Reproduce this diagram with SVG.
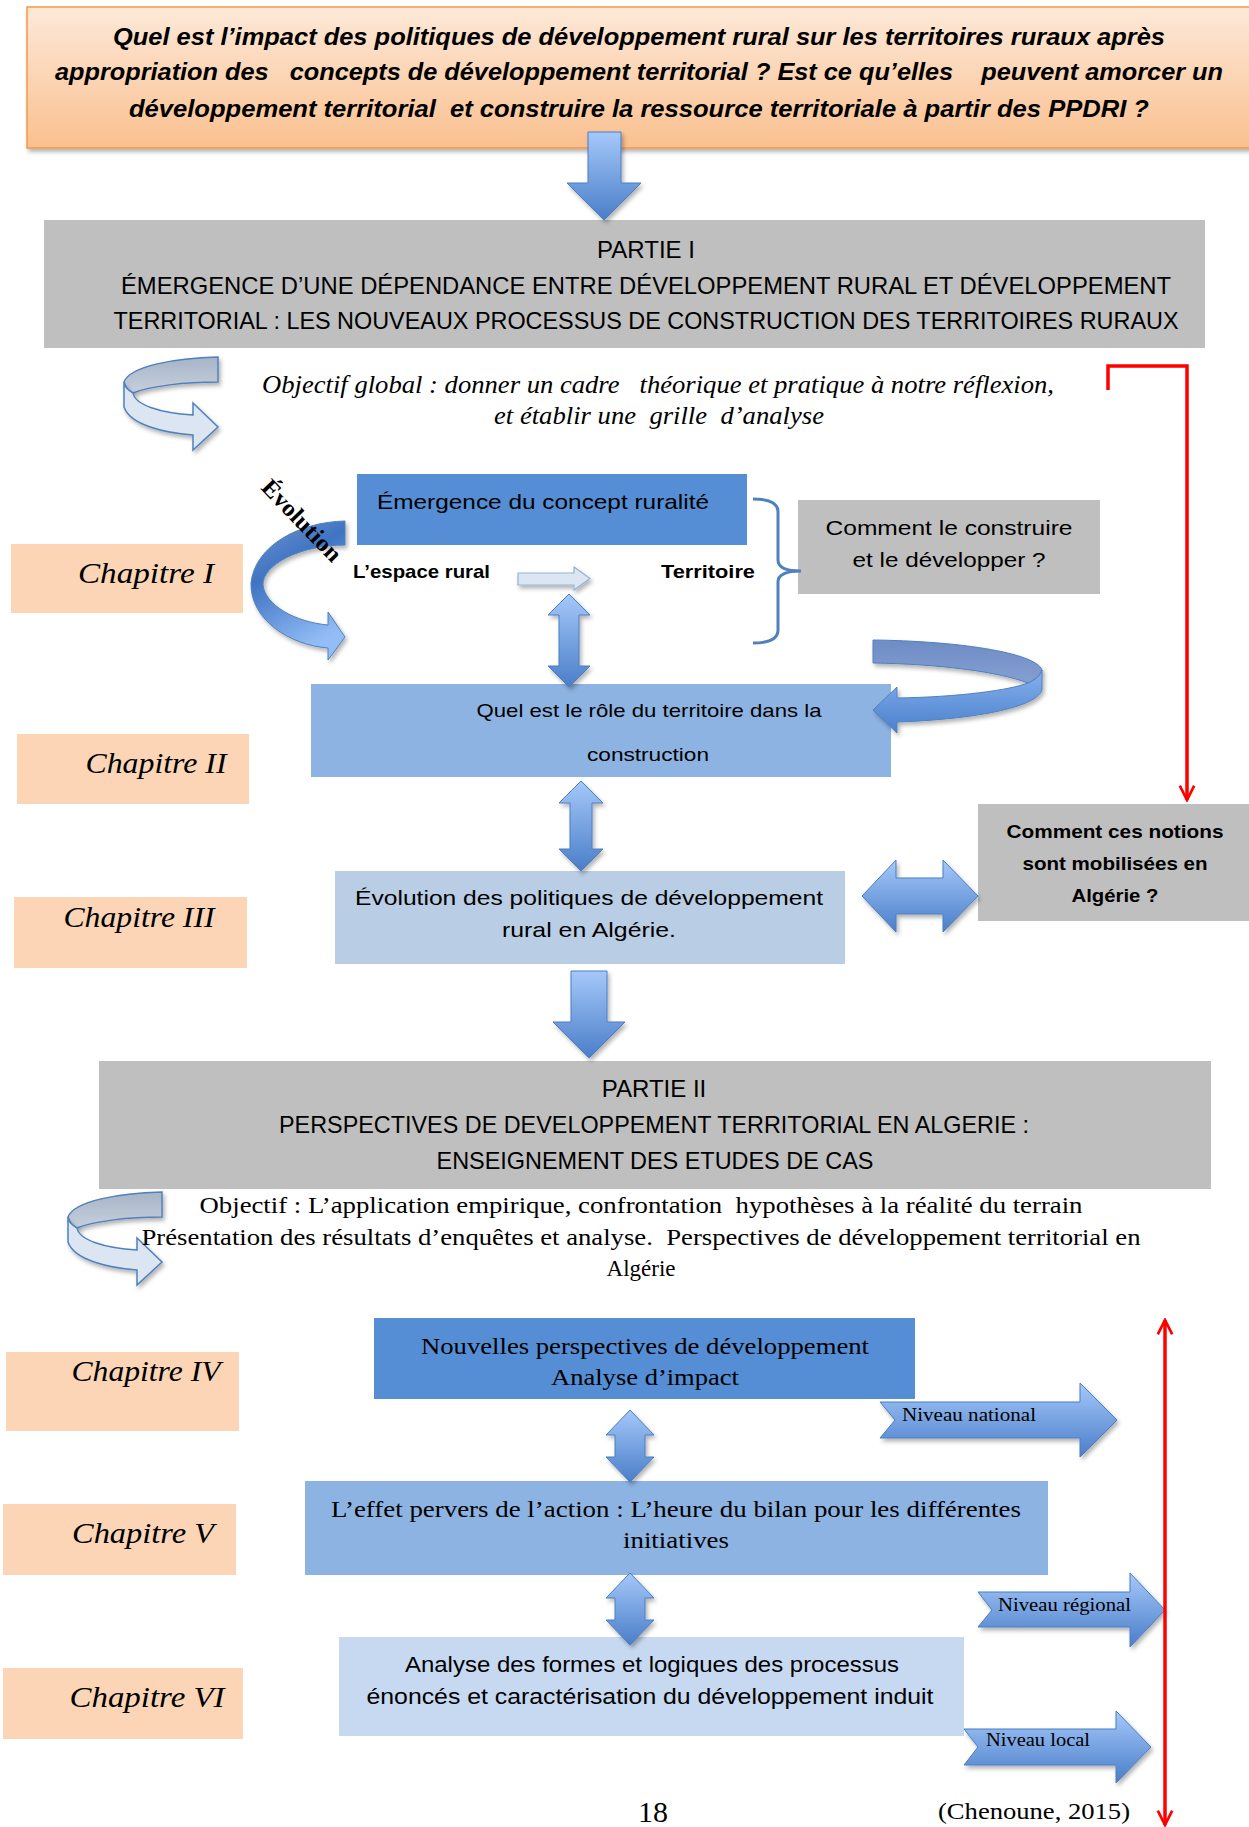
<svg xmlns="http://www.w3.org/2000/svg" width="1249" height="1827" viewBox="0 0 1249 1827">
<style>
.q{font-family:"Liberation Sans",Arial,sans-serif;font-weight:bold;font-style:italic;font-size:24px;fill:#000}
.h{font-family:"Liberation Sans",Arial,sans-serif;font-size:24px;fill:#000}
.s{font-family:"Liberation Sans",Arial,sans-serif;font-size:21px;fill:#000}
.b{font-family:"Liberation Sans",Arial,sans-serif;font-weight:bold;font-size:19px;fill:#000}
.t{font-family:"Liberation Serif","Times New Roman",serif;font-size:23px;fill:#000}
.ti{font-family:"Liberation Serif","Times New Roman",serif;font-style:italic;font-size:25px;fill:#000}
.ch{font-family:"Liberation Serif","Times New Roman",serif;font-style:italic;font-size:30px;fill:#000}
.chb{fill:#FBD5B5}
.grey{fill:#BFBFBF}
.barrow{fill:url(#gBlue);stroke:#4A7EC2;stroke-width:1;filter:url(#sh)}
.red{fill:none;stroke:#FF0000;stroke-width:3.5}
.curlBack{fill:url(#gGrey);stroke:#4F81BD;stroke-width:1.5}
.curlFront{fill:#DCE6F2;stroke:#4F81BD;stroke-width:1.5}
</style>
<defs>
<linearGradient id="gTop" x1="0" y1="0" x2="0" y2="1"><stop offset="0" stop-color="#FDE9D9"/><stop offset="1" stop-color="#FAC08F"/></linearGradient>
<linearGradient id="gBlue" x1="0" y1="0" x2="0" y2="1"><stop offset="0" stop-color="#A5C8FA"/><stop offset="1" stop-color="#4A7EC8"/></linearGradient>
<linearGradient id="gGrey" x1="0" y1="0" x2="0" y2="1"><stop offset="0" stop-color="#A7B4C7"/><stop offset="1" stop-color="#C6CFDC"/></linearGradient>
<linearGradient id="gEvo" x1="0" y1="0" x2="0.4" y2="1"><stop offset="0" stop-color="#7394D0"/><stop offset="0.4" stop-color="#3F74C2"/><stop offset="1" stop-color="#93BDF6"/></linearGradient>
<linearGradient id="gBack" x1="0" y1="0" x2="0" y2="1"><stop offset="0" stop-color="#6E8CC5"/><stop offset="1" stop-color="#859FD2"/></linearGradient>
<linearGradient id="gFront" x1="0" y1="0" x2="0" y2="1"><stop offset="0" stop-color="#86B0EE"/><stop offset="1" stop-color="#4A80CC"/></linearGradient>
<filter id="sh" x="-20%" y="-20%" width="150%" height="150%"><feDropShadow dx="2" dy="3" stdDeviation="2" flood-color="#000" flood-opacity="0.3"/></filter>
<marker id="redArrow" viewBox="0 0 20 20" refX="18" refY="10" markerWidth="18" markerHeight="18" markerUnits="userSpaceOnUse" orient="auto-start-reverse"><path d="M2,2 L18,10 L2,18" fill="none" stroke="#FF0000" stroke-width="3"/></marker>
</defs>
<rect width="1249" height="1827" fill="#FFFFFF"/>

<g id="question">
<rect x="27" y="7" width="1226" height="141" fill="url(#gTop)" stroke="#F79646" stroke-width="1.5" filter="url(#sh)"/>
<text class="q" x="639" y="45" text-anchor="middle" textLength="1052" lengthAdjust="spacingAndGlyphs">Quel est l’impact des politiques de développement rural sur les territoires ruraux après</text>
<text class="q" x="639" y="80" text-anchor="middle" textLength="1168" lengthAdjust="spacingAndGlyphs" xml:space="preserve">appropriation des   concepts de développement territorial ? Est ce qu’elles    peuvent amorcer un</text>
<text class="q" x="639" y="117" text-anchor="middle" textLength="1020" lengthAdjust="spacingAndGlyphs" xml:space="preserve">développement territorial  et construire la ressource territoriale à partir des PPDRI ?</text>
</g>

<g id="partie1">
<rect class="grey" x="44" y="220" width="1161" height="128"/>
<text class="h" x="646" y="258" text-anchor="middle">PARTIE I</text>
<text class="h" x="646" y="294" text-anchor="middle" textLength="1050" lengthAdjust="spacingAndGlyphs">ÉMERGENCE D’UNE DÉPENDANCE ENTRE DÉVELOPPEMENT RURAL ET DÉVELOPPEMENT</text>
<text class="h" x="646" y="329" text-anchor="middle" textLength="1065" lengthAdjust="spacingAndGlyphs">TERRITORIAL : LES NOUVEAUX PROCESSUS DE CONSTRUCTION DES TERRITOIRES RURAUX</text>
</g>

<g id="objectif1">
<path class="curlBack" d="M218,357 C175,358 130,366 124,382 C126,388 130,392 133,393 C150,386 185,382 218,382 Z" filter="url(#sh)"/>
<path class="curlFront" d="M124,382 L124,407 C130,425 165,433 193,435 L193,450 L218,427 L193,403 L193,415 C160,413 135,405 133,393 C128,390 124,386 124,382 Z" filter="url(#sh)"/>
<text class="ti" x="262" y="393" textLength="792" lengthAdjust="spacingAndGlyphs" xml:space="preserve">Objectif global : donner un cadre   théorique et pratique à notre réflexion,</text>
<text class="ti" x="494" y="424" textLength="330" lengthAdjust="spacingAndGlyphs" xml:space="preserve">et établir une  grille  d’analyse</text>
</g>

<g id="chap1">
<rect class="chb" x="11" y="544" width="232" height="69"/>
<text class="ch" x="146" y="583" text-anchor="middle" textLength="136" lengthAdjust="spacingAndGlyphs">Chapitre I</text>
</g>
<g id="chap2">
<rect class="chb" x="17" y="734" width="232" height="70"/>
<text class="ch" x="156" y="773" text-anchor="middle" textLength="141" lengthAdjust="spacingAndGlyphs">Chapitre II</text>
</g>
<g id="chap3">
<rect class="chb" x="14" y="897" width="233" height="71"/>
<text class="ch" x="139" y="927" text-anchor="middle" textLength="151" lengthAdjust="spacingAndGlyphs">Chapitre III</text>
</g>
<g id="chap4">
<rect class="chb" x="6" y="1352" width="233" height="79"/>
<text class="ch" x="146" y="1381" text-anchor="middle" textLength="149" lengthAdjust="spacingAndGlyphs">Chapitre IV</text>
</g>
<g id="chap5">
<rect class="chb" x="3" y="1504" width="233" height="71"/>
<text class="ch" x="143" y="1543" text-anchor="middle" textLength="142" lengthAdjust="spacingAndGlyphs">Chapitre V</text>
</g>
<g id="chap6">
<rect class="chb" x="3" y="1668" width="240" height="71"/>
<text class="ch" x="147" y="1707" text-anchor="middle" textLength="155" lengthAdjust="spacingAndGlyphs">Chapitre VI</text>
</g>

<g id="emergence">
<rect x="357" y="474" width="390" height="71" fill="#558ED5"/>
<text class="s" x="377" y="509" textLength="332" lengthAdjust="spacingAndGlyphs">Émergence du concept ruralité</text>
</g>

<g id="evolutionLabel">
<path d="M345,521 C300,522 255,545 251,583 C250,620 290,645 328,648 L328,660 L345,637 L328,612 L328,625 C295,622 265,605 263,585 C262,565 300,545 345,545 Z" fill="url(#gEvo)" stroke="#4F81BD" stroke-width="1" filter="url(#sh)"/>
<text transform="translate(296,526) rotate(46)" text-anchor="middle" font-family="Liberation Serif, Times New Roman, serif" font-weight="bold" font-size="24" textLength="104" lengthAdjust="spacingAndGlyphs">Évolution</text>
</g>

<g id="espace">
<text class="b" x="353" y="578" textLength="137" lengthAdjust="spacingAndGlyphs">L’espace rural</text>
</g>
<g id="territoire">
<text class="b" x="661" y="578" textLength="94" lengthAdjust="spacingAndGlyphs">Territoire</text>
</g>

<g id="comment1">
<rect class="grey" x="798" y="500" width="302" height="94"/>
<text class="s" x="949" y="535" text-anchor="middle" textLength="247" lengthAdjust="spacingAndGlyphs">Comment le construire</text>
<text class="s" x="949" y="567" text-anchor="middle" textLength="193" lengthAdjust="spacingAndGlyphs">et le développer ?</text>
</g>

<g id="role">
<rect x="311" y="684" width="580" height="93" fill="#8DB3E2"/>
<text class="s" x="649" y="717" text-anchor="middle" style="font-size:19px" textLength="345" lengthAdjust="spacingAndGlyphs">Quel est le rôle du territoire dans la</text>
<text class="s" x="648" y="761" text-anchor="middle" style="font-size:19px" textLength="122" lengthAdjust="spacingAndGlyphs">construction</text>
</g>

<g id="politiques">
<rect x="335" y="871" width="510" height="93" fill="#B9CDE5"/>
<text class="s" x="589" y="905" text-anchor="middle" textLength="468" lengthAdjust="spacingAndGlyphs">Évolution des politiques de développement</text>
<text class="s" x="589" y="937" text-anchor="middle" textLength="174" lengthAdjust="spacingAndGlyphs">rural en Algérie.</text>
</g>

<g id="notions">
<rect class="grey" x="978" y="804" width="275" height="117"/>
<text class="b" x="1115" y="838" text-anchor="middle" textLength="217" lengthAdjust="spacingAndGlyphs">Comment ces notions</text>
<text class="b" x="1115" y="870" text-anchor="middle" textLength="185" lengthAdjust="spacingAndGlyphs">sont mobilisées en</text>
<text class="b" x="1115" y="902" text-anchor="middle" textLength="87" lengthAdjust="spacingAndGlyphs">Algérie ?</text>
</g>

<g id="partie2">
<rect class="grey" x="99" y="1061" width="1112" height="128"/>
<text class="h" x="654" y="1097" text-anchor="middle">PARTIE II</text>
<text class="h" x="654" y="1133" text-anchor="middle" textLength="750" lengthAdjust="spacingAndGlyphs">PERSPECTIVES DE DEVELOPPEMENT TERRITORIAL EN ALGERIE :</text>
<text class="h" x="655" y="1169" text-anchor="middle" textLength="437" lengthAdjust="spacingAndGlyphs">ENSEIGNEMENT DES ETUDES DE CAS</text>
</g>

<g id="objectif2">
<path class="curlBack" transform="translate(-56,835)" d="M218,357 C175,358 130,366 124,382 C126,388 130,392 133,393 C150,386 185,382 218,382 Z" filter="url(#sh)"/>
<path class="curlFront" transform="translate(-56,835)" d="M124,382 L124,407 C130,425 165,433 193,435 L193,450 L218,427 L193,403 L193,415 C160,413 135,405 133,393 C128,390 124,386 124,382 Z" filter="url(#sh)"/>
<text class="t" x="641" y="1213" text-anchor="middle" textLength="883" lengthAdjust="spacingAndGlyphs" xml:space="preserve">Objectif : L’application empirique, confrontation  hypothèses à la réalité du terrain</text>
<text class="t" x="641" y="1245" text-anchor="middle" textLength="999" lengthAdjust="spacingAndGlyphs" xml:space="preserve">Présentation des résultats d’enquêtes et analyse.  Perspectives de développement territorial en</text>
<text class="t" x="641" y="1276" text-anchor="middle">Algérie</text>
</g>

<g id="nouvelles">
<rect x="374" y="1318" width="541" height="81" fill="#558ED5"/>
<text class="t" x="645" y="1354" text-anchor="middle" textLength="448" lengthAdjust="spacingAndGlyphs">Nouvelles perspectives de développement</text>
<text class="t" x="645" y="1385" text-anchor="middle" textLength="188" lengthAdjust="spacingAndGlyphs">Analyse d’impact</text>
</g>

<g id="effet">
<rect x="305" y="1481" width="743" height="94" fill="#8DB3E2"/>
<text class="t" x="676" y="1517" text-anchor="middle" textLength="690" lengthAdjust="spacingAndGlyphs">L’effet pervers de l’action : L’heure du bilan pour les différentes</text>
<text class="t" x="676" y="1548" text-anchor="middle" textLength="106" lengthAdjust="spacingAndGlyphs">initiatives</text>
</g>

<g id="analyse">
<rect x="339" y="1637" width="625" height="99" fill="#C6D9F1"/>
<text class="s" x="652" y="1672" text-anchor="middle" style="font-size:22px" textLength="494" lengthAdjust="spacingAndGlyphs">Analyse des formes et logiques des processus</text>
<text class="s" x="650" y="1704" text-anchor="middle" style="font-size:22px" textLength="567" lengthAdjust="spacingAndGlyphs">énoncés et caractérisation du développement induit</text>
</g>

<g id="niveauNational">
<path class="barrow" d="M880,1402 L1080,1402 L1080,1383 L1117,1420 L1080,1457 L1080,1438 L880,1438 L895,1420 Z"/>
<text class="t" x="902" y="1421" style="font-size:19px" textLength="134" lengthAdjust="spacingAndGlyphs">Niveau national</text>
</g>
<g id="niveauRegional">
<path class="barrow" d="M978,1592 L1130,1592 L1130,1573 L1165,1610 L1130,1647 L1130,1627 L978,1627 L992,1610 Z"/>
<text class="t" x="998" y="1611" style="font-size:19px" textLength="133" lengthAdjust="spacingAndGlyphs">Niveau régional</text>
</g>
<g id="niveauLocal">
<path class="barrow" d="M964,1729 L1116,1729 L1116,1711 L1151,1747 L1116,1783 L1116,1765 L964,1765 L978,1747 Z"/>
<text class="t" x="986" y="1746" style="font-size:19px" textLength="104" lengthAdjust="spacingAndGlyphs">Niveau local</text>
</g>

<g id="footer">
<text class="t" x="653" y="1822" text-anchor="middle" style="font-size:30px">18</text>
<text class="t" x="938" y="1819" textLength="192" lengthAdjust="spacingAndGlyphs">(Chenoune, 2015)</text>
</g>

<g id="connectors">
<path class="barrow" d="M588,132 L621,132 L621,183 L641,183 L604,220 L567,183 L588,183 Z"/>
<path d="M518,573 L574,573 L574,567 L590,578.5 L574,590 L574,585 L518,585 Z" fill="#DCE6F2" stroke="#95B3D7" stroke-width="1.2" filter="url(#sh)"/>
<path d="M753,499 Q778,499 778,512 L778,560 Q778,571 801,571 Q778,571 778,582 L778,630 Q778,643 753,643" fill="none" stroke="#4F81BD" stroke-width="3"/>
<path class="barrow" d="M569,594 L590,615 L579,615 L579,666 L590,666 L569,687 L548,666 L559,666 L559,615 L548,615 Z"/>
<path d="M873,640 C955,641 1035,652 1042,670 C1040,676 1035,680 1028,683 C1000,672 940,664 873,663 Z" fill="url(#gBack)" stroke="#4F81BD" stroke-width="1" filter="url(#sh)"/>
<path d="M1042,670 L1042,690 C1035,710 960,720 897,722 L897,733 L873,710 L897,687 L897,698 C960,697 1010,690 1028,683 C1035,680 1040,676 1042,670 Z" fill="url(#gFront)" stroke="#4F81BD" stroke-width="1" filter="url(#sh)"/>
<path class="barrow" d="M581,781 L603,803 L592,803 L592,849 L603,849 L581,871 L559,849 L570,849 L570,803 L559,803 Z"/>
<path class="barrow" d="M862,896 L896,860 L896,878 L943,878 L943,860 L978,896 L943,932 L943,914 L896,914 L896,932 Z"/>
<path class="barrow" d="M571,971 L607,971 L607,1022 L625,1022 L589,1058 L553,1022 L571,1022 Z"/>
<path class="barrow" d="M630,1410 L654,1435 L645,1435 L645,1457 L654,1457 L630,1482 L606,1457 L615,1457 L615,1435 L606,1435 Z"/>
<path class="barrow" d="M630,1573 L654,1598 L645,1598 L645,1620 L654,1620 L630,1645 L606,1620 L615,1620 L615,1598 L606,1598 Z"/>
<path class="red" d="M1108,390 L1108,366 L1187,366 L1187,800" marker-end="url(#redArrow)"/>
<path class="red" d="M1165,1320 L1165,1825" marker-start="url(#redArrow)" marker-end="url(#redArrow)"/>
</g>
</svg>
